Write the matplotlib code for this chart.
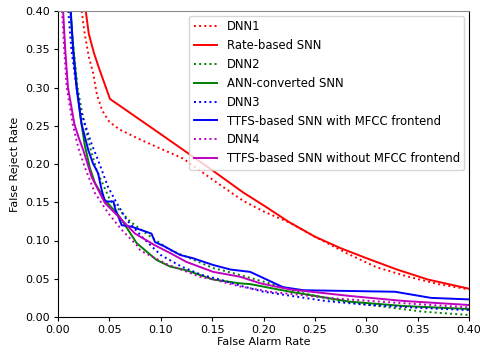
import matplotlib
matplotlib.use("Agg")
import matplotlib.pyplot as plt

# DNN1 (red dotted)
dnn1_x = [0.023, 0.026, 0.030, 0.034, 0.038, 0.043, 0.050, 0.060, 0.080, 0.100, 0.122, 0.150, 0.180, 0.200, 0.226, 0.250, 0.280, 0.310, 0.340, 0.370, 0.400]
dnn1_y = [0.400, 0.370, 0.340, 0.320, 0.290, 0.270, 0.255, 0.245, 0.232, 0.220, 0.207, 0.180, 0.152, 0.138, 0.123, 0.105, 0.084, 0.065, 0.053, 0.043, 0.036]
# Rate-based SNN (red solid)
rate_x = [0.027, 0.030, 0.035, 0.040, 0.0506, 0.100, 0.150, 0.180, 0.200, 0.225, 0.250, 0.275, 0.300, 0.330, 0.360, 0.380, 0.400]
rate_y = [0.400, 0.370, 0.345, 0.325, 0.285, 0.239, 0.192, 0.163, 0.146, 0.124, 0.105, 0.090, 0.077, 0.062, 0.049, 0.043, 0.037]
# DNN2 (green dotted)
dnn2_x = [0.012, 0.0135, 0.016, 0.019, 0.023, 0.027, 0.032, 0.0376, 0.0506, 0.070, 0.086, 0.109, 0.128, 0.151, 0.170, 0.206, 0.239, 0.270, 0.304, 0.355, 0.400]
dnn2_y = [0.400, 0.375, 0.340, 0.300, 0.270, 0.245, 0.218, 0.192, 0.153, 0.125, 0.109, 0.0876, 0.077, 0.064, 0.0575, 0.044, 0.031, 0.022, 0.0157, 0.007, 0.0026]
# ANN-converted SNN (green solid)
ann_x = [0.012, 0.015, 0.0185, 0.022, 0.026, 0.031, 0.036, 0.0457, 0.060, 0.0766, 0.096, 0.109, 0.125, 0.151, 0.177, 0.187, 0.226, 0.284, 0.336, 0.400]
ann_y = [0.400, 0.350, 0.300, 0.260, 0.225, 0.195, 0.175, 0.153, 0.131, 0.0965, 0.0745, 0.066, 0.061, 0.049, 0.044, 0.043, 0.033, 0.020, 0.0144, 0.0104]
# DNN3 (blue dotted)
dnn3_x = [0.010, 0.013, 0.018, 0.022, 0.028, 0.033, 0.039, 0.0487, 0.0555, 0.0668, 0.083, 0.100, 0.120, 0.140, 0.160, 0.180, 0.200, 0.230, 0.260, 0.300, 0.350, 0.400]
dnn3_y = [0.400, 0.350, 0.300, 0.270, 0.245, 0.225, 0.205, 0.170, 0.153, 0.127, 0.103, 0.081, 0.066, 0.055, 0.048, 0.040, 0.033, 0.027, 0.021, 0.016, 0.012, 0.009]
# TTFS-based SNN with MFCC frontend (blue solid)
ttfs1_x = [0.0125, 0.0146, 0.018, 0.023, 0.0295, 0.034, 0.039, 0.0425, 0.0457, 0.054, 0.0555, 0.062, 0.0717, 0.091, 0.0944, 0.104, 0.119, 0.131, 0.151, 0.168, 0.187, 0.219, 0.239, 0.328, 0.363, 0.400]
ttfs1_y = [0.400, 0.350, 0.300, 0.252, 0.218, 0.201, 0.188, 0.166, 0.151, 0.151, 0.142, 0.120, 0.118, 0.109, 0.098, 0.092, 0.081, 0.077, 0.068, 0.062, 0.059, 0.039, 0.035, 0.033, 0.025, 0.023]
# DNN4 (magenta dotted)
dnn4_x = [0.004, 0.006, 0.0085, 0.0146, 0.020, 0.026, 0.036, 0.0487, 0.062, 0.0766, 0.080, 0.106, 0.138, 0.154, 0.177, 0.206, 0.271, 0.336, 0.400]
dnn4_y = [0.400, 0.350, 0.300, 0.250, 0.220, 0.196, 0.162, 0.136, 0.114, 0.094, 0.087, 0.069, 0.0527, 0.048, 0.040, 0.033, 0.024, 0.018, 0.0126]
# TTFS-based SNN without MFCC frontend (magenta solid)
ttfs2_x = [0.005, 0.007, 0.0097, 0.016, 0.020, 0.0246, 0.0328, 0.0457, 0.062, 0.075, 0.094, 0.110, 0.125, 0.151, 0.177, 0.197, 0.226, 0.284, 0.336, 0.400]
ttfs2_y = [0.400, 0.350, 0.300, 0.252, 0.235, 0.218, 0.183, 0.149, 0.127, 0.109, 0.094, 0.083, 0.072, 0.059, 0.0527, 0.044, 0.036, 0.0275, 0.021, 0.0157]

labels = ["DNN1", "Rate-based SNN", "DNN2", "ANN-converted SNN", "DNN3",
          "TTFS-based SNN with MFCC frontend", "DNN4",
          "TTFS-based SNN without MFCC frontend"]
x_ticks = [0.00, 0.05, 0.10, 0.15, 0.20, 0.25, 0.30, 0.35, 0.40]
y_ticks = [0.00, 0.05, 0.10, 0.15, 0.20, 0.25, 0.30, 0.35, 0.40]

plt.rcParams["font.size"] = 8
fig = plt.figure(figsize=(4.8, 3.53), dpi=100)
ax = fig.add_axes([58 / 480, 1 - 317 / 353, (469 - 58) / 480, (317 - 11) / 353])

series = [
    (dnn1_x, dnn1_y, "r", ":"), (rate_x, rate_y, "r", "-"),
    (dnn2_x, dnn2_y, "g", ":"), (ann_x, ann_y, "g", "-"),
    (dnn3_x, dnn3_y, "b", ":"), (ttfs1_x, ttfs1_y, "b", "-"),
    (dnn4_x, dnn4_y, "m", ":"), (ttfs2_x, ttfs2_y, "m", "-"),
]
for (xs, ys, c, ls), lab in zip(series, labels):
    ax.plot(xs, ys, color=c, linestyle=ls, linewidth=1.4, label=lab)

ax.set_xlim(0, 0.4)
ax.set_ylim(0, 0.4)
ax.set_xticks(x_ticks)
ax.set_yticks(y_ticks)
ax.set_xticklabels([f"{t:.2f}" for t in x_ticks], fontsize=8)
ax.set_yticklabels([f"{t:.2f}" for t in y_ticks], fontsize=8)
ax.tick_params(length=3, pad=2.5)
ax.set_xlabel("False Alarm Rate", fontsize=8, labelpad=1.5)
ax.set_ylabel("False Reject Rate", fontsize=8, labelpad=4)
ax.spines["top"].set_color("0.55")
ax.legend(loc="upper right", fontsize=8.4, borderaxespad=0.4)

fig.savefig("out.png", dpi=100)
